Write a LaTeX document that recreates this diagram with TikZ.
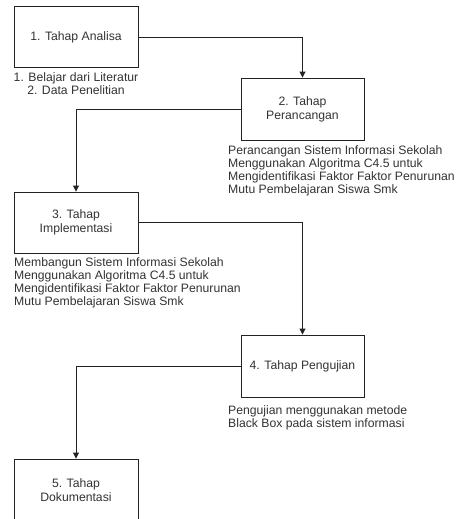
\documentclass[tikz,border=0pt]{standalone}
\usepackage{fontspec}
\setmainfont{Liberation Sans}
\usetikzlibrary{arrows.meta}
\definecolor{ln}{HTML}{222222}
\definecolor{tx}{HTML}{333333}
\tikzset{
  stagebox/.style={draw=ln, line width=0.9pt, minimum width=124pt, minimum height=61pt, align=center, text=tx, inner sep=0pt, font=\fontsize{12.2}{14}\selectfont},
  desc/.style={inner sep=0pt, text=tx, font=\fontsize{12.2}{13}\selectfont},
  flow/.style={draw=ln, line width=0.9pt, -{Triangle[length=6pt,width=6pt]}}
}
\begin{document}
\begin{tikzpicture}[x=1pt,y=-1pt]
\useasboundingbox[fill=white] (0,0) rectangle (458,519);
\begin{scope}
\clip (0,0) rectangle (458,519);
\node[stagebox] (b1) at (76,37) {1. Tahap Analisa};
\node[stagebox, minimum width=123pt, minimum height=62pt] (b2) at (302.5,109) {2. Tahap\\Perancangan};
\node[stagebox] (b3) at (76,222.5) {3. Tahap\\Implementasi};
\node[stagebox, minimum width=123pt, minimum height=62pt] (b4) at (302.5,366) {4. Tahap Pengujian};
\node[stagebox, minimum height=62pt] (b5) at (76,490) {5. Tahap\\Dokumentasi};

\node[desc, align=center, anchor=north] (l1) at (76,72) {1. Belajar dari Literatur\\2. Data Penelitian};
\node[desc, align=left, anchor=north west] (l2) at (228,145) {Perancangan Sistem Informasi Sekolah\\Menggunakan Algoritma C4.5 untuk\\Mengidentifikasi Faktor Faktor Penurunan\\Mutu Pembelajaran Siswa Smk};
\node[desc, align=left, anchor=north west] (l3) at (14,257) {Membangun Sistem Informasi Sekolah\\Menggunakan Algoritma C4.5 untuk\\Mengidentifikasi Faktor Faktor Penurunan\\Mutu Pembelajaran Siswa Smk};
\node[desc, align=left, anchor=north west] (l4) at (228,405) {Pengujian menggunakan metode\\Black Box pada sistem informasi};

\draw[flow] (b1.east) -| (b2.north);
\draw[flow] (b2.west) -| (b3.north);
\draw[flow] (b3.east) -| (b4.north);
\draw[flow] (b4.west) -| (b5.north);
\end{scope}
\end{tikzpicture}
\end{document}
